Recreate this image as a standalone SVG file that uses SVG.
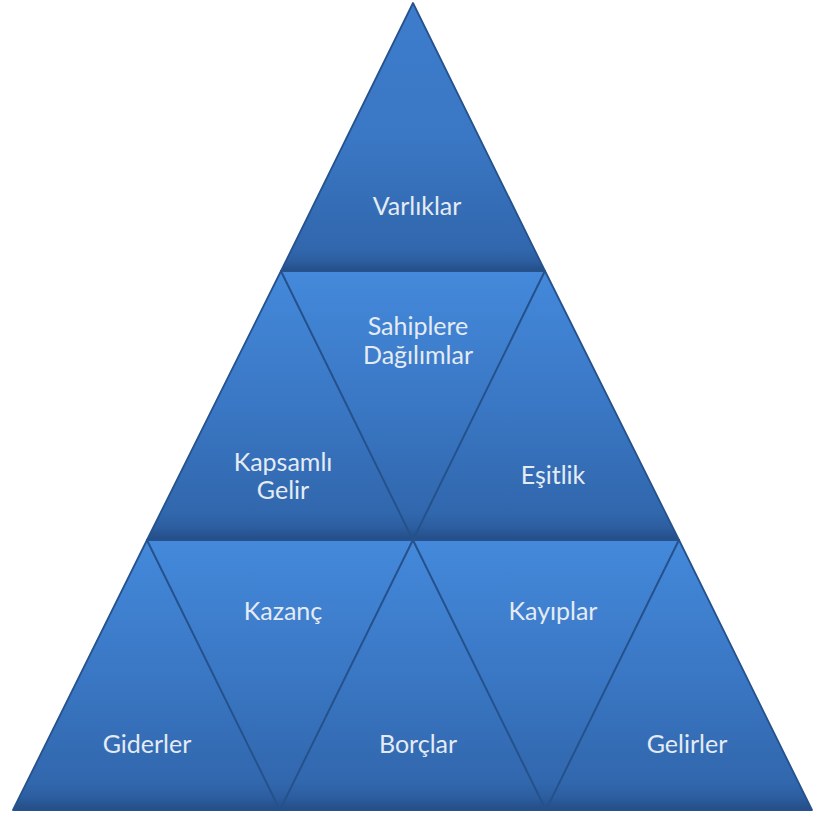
<svg xmlns="http://www.w3.org/2000/svg" width="814" height="814" viewBox="0 0 814 814">
  <defs>
    <linearGradient id="g" x1="0" y1="0" x2="0" y2="1">
      <stop offset="0" stop-color="#4489db"/>
      <stop offset="0.5" stop-color="#3a77c4"/>
      <stop offset="0.9" stop-color="#3167ad"/>
      <stop offset="0.955" stop-color="#2c5d9f"/>
      <stop offset="1" stop-color="#244d85"/>
    </linearGradient>
    <linearGradient id="gt" x1="0" y1="0" x2="0" y2="1">
      <stop offset="0" stop-color="#3d7dcc"/>
      <stop offset="0.5" stop-color="#3a77c4"/>
      <stop offset="0.92" stop-color="#3167ad"/>
      <stop offset="0.965" stop-color="#2c5d9f"/>
      <stop offset="1" stop-color="#244d85"/>
    </linearGradient>
  </defs>
  <style>
    .tri { fill: url(#g); stroke: #25528c; stroke-width: 1.8; stroke-linejoin: round; }
    .top { fill: url(#gt); }
    .lbl { font-family: Lato, "Open Sans", sans-serif; font-size: 25px; fill: #e4ebf3; text-anchor: middle; }
  </style>
  <rect width="814" height="814" fill="#ffffff"/>
  <g id="varliklar">
    <polygon class="tri top" points="413,3 545,271 281,271"/>
    <text class="lbl" x="417" y="215">Varlıklar</text>
  </g>
  <g id="kapsamli-gelir">
    <polygon class="tri" points="281,271 413,540 147,540"/>
    <text class="lbl" x="283" y="471">Kapsamlı</text>
    <text class="lbl" x="283" y="499">Gelir</text>
  </g>
  <g id="sahiplere-dagilimlar">
    <polygon class="tri" points="281,271 545,271 413,540"/>
    <text class="lbl" x="418" y="335">Sahiplere</text>
    <text class="lbl" x="418" y="364">Dağılımlar</text>
  </g>
  <g id="esitlik">
    <polygon class="tri" points="545,271 679,540 413,540"/>
    <text class="lbl" x="553" y="484">Eşitlik</text>
  </g>
  <g id="giderler">
    <polygon class="tri" points="147,540 280,810 13,810"/>
    <text class="lbl" x="147" y="753">Giderler</text>
  </g>
  <g id="kazanc">
    <polygon class="tri" points="147,540 413,540 280,810"/>
    <text class="lbl" x="283" y="620">Kazanç</text>
  </g>
  <g id="borclar">
    <polygon class="tri" points="413,540 546,810 280,810"/>
    <text class="lbl" x="418" y="753">Borçlar</text>
  </g>
  <g id="kayiplar">
    <polygon class="tri" points="413,540 679,540 546,810"/>
    <text class="lbl" x="553" y="620">Kayıplar</text>
  </g>
  <g id="gelirler">
    <polygon class="tri" points="679,540 812,810 546,810"/>
    <text class="lbl" x="687" y="753">Gelirler</text>
  </g>
  <g id="connectors"></g>
</svg>
